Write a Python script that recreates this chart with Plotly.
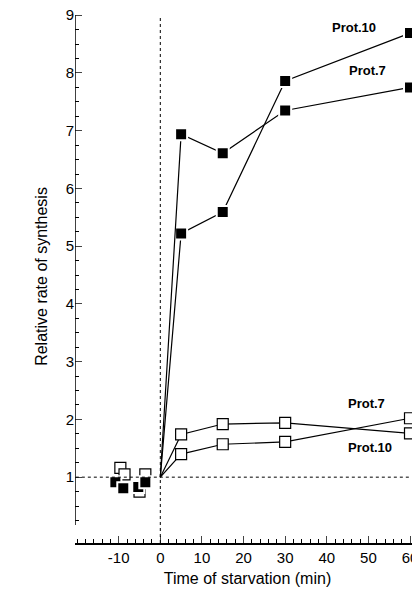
import plotly.graph_objects as go

# pre-starvation controls
pre_x_filled = [-10.8, -8.9, -5.3, -3.6]
pre_y_filled = [0.91, 0.81, 0.83, 0.91]
pre_x_open = [-9.6, -8.6, -5.0, -3.6]
pre_y_open = [1.16, 1.05, 0.75, 1.05]

times = [0, 5, 15, 30, 60]
prot10_filled = [1, 5.22, 5.59, 7.86, 8.69]
prot7_filled = [1, 6.94, 6.61, 7.35, 7.75]
prot7_open = [1, 1.74, 1.92, 1.94, 1.76]
prot10_open = [1, 1.40, 1.57, 1.61, 2.02]

x_major = [-10, 0, 10, 20, 30, 40, 50, 60]
x_labels = ["-10", "0", "10", "20", "30", "40", "50", "60"]
x_minor = list(range(-20, 62, 2))
y_major = [1, 2, 3, 4, 5, 6, 7, 8, 9]
y_minor = [0.25 * i for i in range(1, 37)]

fig = go.Figure()

filled = dict(symbol="square", size=12, color="black", line=dict(color="white", width=2))
hollow = dict(symbol="square", size=11, color="white", line=dict(color="black", width=1.2))

for ys in [prot10_filled, prot7_filled]:
    fig.add_trace(go.Scatter(x=times, y=ys, mode="lines", cliponaxis=False,
                             line=dict(color="black", width=1.2), showlegend=False))
    fig.add_trace(go.Scatter(x=times[1:], y=ys[1:], mode="markers", marker=filled,
                             cliponaxis=False, showlegend=False))
for ys in [prot7_open, prot10_open]:
    fig.add_trace(go.Scatter(x=times, y=ys, mode="lines", cliponaxis=False,
                             line=dict(color="black", width=1.2), showlegend=False))
    fig.add_trace(go.Scatter(x=times[1:], y=ys[1:], mode="markers", marker=hollow,
                             cliponaxis=False, showlegend=False))

fig.add_trace(go.Scatter(x=pre_x_open, y=pre_y_open, mode="markers", marker=hollow, showlegend=False))
fig.add_trace(go.Scatter(x=pre_x_filled, y=pre_y_filled, mode="markers", marker=filled, showlegend=False))

# dotted reference lines
fig.add_shape(type="line", x0=0, x1=0, y0=-0.14, y1=9, line=dict(color="black", width=1, dash="dot"))
fig.add_shape(type="line", x0=-20.3, x1=60, y0=1, y1=1, line=dict(color="black", width=1, dash="dot"))
# y axis line (detached from x axis)
fig.add_shape(type="line", x0=-20.5, x1=-20.5, y0=0.17, y1=9, line=dict(color="black", width=1.5))

labels = [("Prot.10", 46.5, 8.78), ("Prot.7", 49.9, 8.05), ("Prot.7", 49.6, 2.28), ("Prot.10", 50.4, 1.52)]
for txt, x, y in labels:
    fig.add_annotation(x=x, y=y, text="<b>%s</b>" % txt, showarrow=False,
                       font=dict(size=13, color="black", family="Arial"))

fig.update_xaxes(range=[-20.5, 62.4], tickvals=x_major, ticktext=x_labels, ticks="inside", ticklen=7,
                 showline=True, linecolor="black", linewidth=1.5, showgrid=False, zeroline=False,
                 automargin=False, ticklabeloverflow="allow",
                 minor=dict(tickvals=x_minor, ticks="inside", ticklen=4, tickcolor="black"),
                 tickfont=dict(size=15), title=dict(text="Time of starvation (min)", font=dict(size=16), standoff=8))
fig.update_yaxes(range=[-0.14, 9.09], tickvals=y_major, ticks="inside", ticklen=7,
                 showline=False, showgrid=False, zeroline=False, automargin=False,
                 ticklabeloverflow="allow",
                 minor=dict(tickvals=y_minor, ticks="inside", ticklen=4, tickcolor="black"),
                 tickfont=dict(size=15), title=dict(text="Relative rate of synthesis", font=dict(size=16), standoff=14))

fig.update_layout(width=412, height=589, plot_bgcolor="white", paper_bgcolor="white",
                  margin=dict(l=67, r=0, t=2, b=54),
                  font=dict(family="Arial, Liberation Sans", color="black"))

fig.write_html("out.html")
